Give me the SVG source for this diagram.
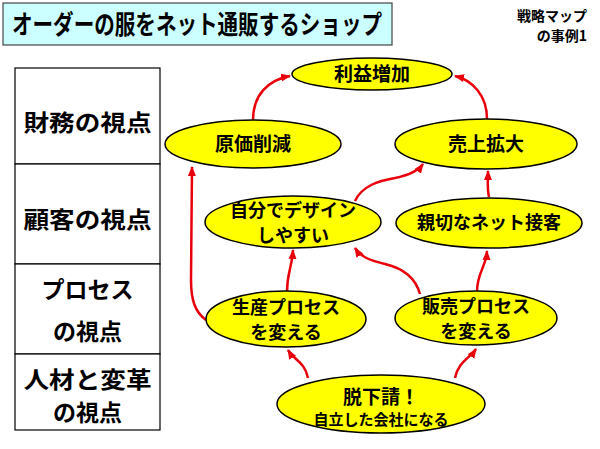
<svg xmlns="http://www.w3.org/2000/svg" width="600" height="449" viewBox="0 0 600 449">
<style>
.t{font-family:"Noto Sans CJK JP","Noto Sans CJK SC",sans-serif;font-weight:bold;fill:#000}
.node ellipse{fill:#FFFF00;stroke:#000;stroke-width:1.5}
.conn path{fill:none;stroke:#E8000B;stroke-width:2.5;marker-end:url(#ah)}
.tbl{fill:#fff;stroke:#000;stroke-width:1.2}
</style>
<defs>
<marker id="ah" markerUnits="userSpaceOnUse" markerWidth="10" markerHeight="10" viewBox="0 0 10 10" refX="9" refY="5" orient="auto">
<path d="M0,1 L10,5 L0,9 Z" fill="#E8000B"/>
</marker>
</defs>
<rect width="600" height="449" fill="#fff"/>
<g id="title">
<rect x="3" y="3" width="389" height="42" fill="#CCFFFF" stroke="#444" stroke-width="1.2"/>
<text class="t" x="12" y="34" font-size="26" textLength="370" lengthAdjust="spacingAndGlyphs">オーダーの服をネット通販するショップ</text>
</g>
<g id="caption">
<text class="t" x="587" y="21" font-size="14" text-anchor="end">戦略マップ</text>
<text class="t" x="587" y="41" font-size="14" text-anchor="end">の事例1</text>
</g>
<g id="perspectives">
<rect class="tbl" x="15" y="68" width="145" height="96"/>
<rect class="tbl" x="15" y="164" width="145" height="100"/>
<rect class="tbl" x="15" y="264" width="145" height="90"/>
<rect class="tbl" x="15" y="354" width="145" height="76"/>
<text class="t" x="87.5" y="131" font-size="23" text-anchor="middle" textLength="128" lengthAdjust="spacingAndGlyphs">財務の視点</text>
<text class="t" x="87.5" y="228" font-size="23" text-anchor="middle" textLength="128" lengthAdjust="spacingAndGlyphs">顧客の視点</text>
<text class="t" x="87.5" y="298" font-size="23" text-anchor="middle">プロセス</text>
<text class="t" x="87.5" y="340" font-size="23" text-anchor="middle">の視点</text>
<text class="t" x="87.5" y="388" font-size="23" text-anchor="middle" textLength="128" lengthAdjust="spacingAndGlyphs">人材と変革</text>
<text class="t" x="87.5" y="421" font-size="23" text-anchor="middle">の視点</text>
</g>
<g class="conn" id="connectors">
<path d="M253,120 C253,95 268,80 290,76"/>
<path d="M487,119 C487,95 472,80 455,76"/>
<path d="M355,201 C362,186 378,181 395,178 C410,175 418,171 423,164"/>
<path d="M489,197 C487,188 488,180 488,171"/>
<path d="M206,320 C195,312 191,300 191,280 L192,167"/>
<path d="M287,292 C287,272 292,268 293,250"/>
<path d="M420,294 C415,276 402,268 385,264 C368,260 360,256 355,248"/>
<path d="M477,292 C477,272 486,268 487,251"/>
<path d="M308,378 C305,362 294,360 288,350"/>
<path d="M455,378 C458,362 470,358 476,349"/>
</g>
<g class="node" id="n-profit">
<ellipse cx="372" cy="74" rx="80" ry="16"/>
<text class="t" x="372" y="81" font-size="19" text-anchor="middle">利益増加</text>
</g>
<g class="node" id="n-cost">
<ellipse cx="253" cy="144" rx="88" ry="24"/>
<text class="t" x="253" y="151" font-size="19" text-anchor="middle">原価削減</text>
</g>
<g class="node" id="n-sales">
<ellipse cx="486" cy="144" rx="91" ry="25"/>
<text class="t" x="486" y="151" font-size="19" text-anchor="middle">売上拡大</text>
</g>
<g class="node" id="n-design">
<ellipse cx="293" cy="222" rx="88" ry="26"/>
<text class="t" x="293" y="217" font-size="18" text-anchor="middle">自分でデザイン</text>
<text class="t" x="293" y="242" font-size="18" text-anchor="middle">しやすい</text>
</g>
<g class="node" id="n-service">
<ellipse cx="489" cy="223" rx="93" ry="25"/>
<text class="t" x="489" y="229" font-size="18" text-anchor="middle">親切なネット接客</text>
</g>
<g class="node" id="n-prod">
<ellipse cx="286" cy="319" rx="80" ry="28"/>
<text class="t" x="286" y="314" font-size="18" text-anchor="middle">生産プロセス</text>
<text class="t" x="286" y="339" font-size="18" text-anchor="middle">を変える</text>
</g>
<g class="node" id="n-salesproc">
<ellipse cx="476" cy="318" rx="81" ry="27"/>
<text class="t" x="476" y="313" font-size="18" text-anchor="middle">販売プロセス</text>
<text class="t" x="476" y="338" font-size="18" text-anchor="middle">を変える</text>
</g>
<g class="node" id="n-indep">
<ellipse cx="381" cy="404" rx="104" ry="29"/>
<text class="t" x="381" y="404" font-size="19" text-anchor="middle">脱下請！</text>
<text class="t" x="381" y="425" font-size="15" text-anchor="middle">自立した会社になる</text>
</g>
</svg>
